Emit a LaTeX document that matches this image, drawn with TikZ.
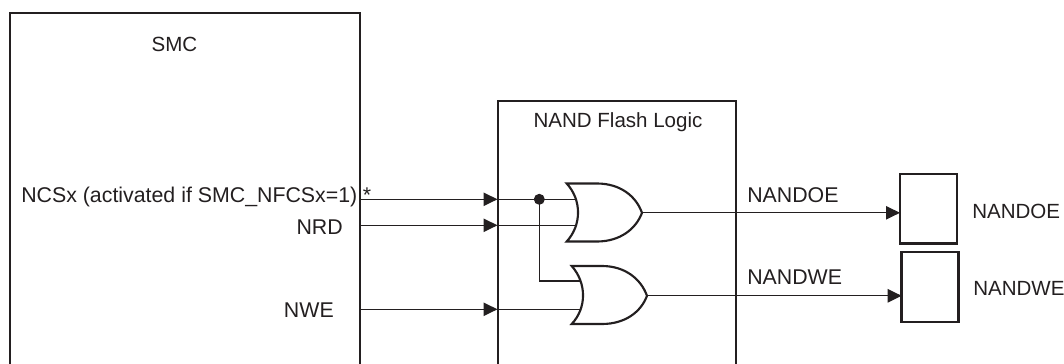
\documentclass[tikz,border=0pt]{standalone}
\usepackage{fontspec}
\setmainfont{Liberation Sans}
\usetikzlibrary{arrows.meta}
\definecolor{inkblack}{HTML}{231F20}
\tikzset{
  block/.style={draw=inkblack,line width=1.9pt,line join=miter,outer sep=0pt},
  gate/.style={draw=inkblack,line width=1.6pt,fill=white},
  signal/.style={draw=inkblack,line width=1pt},
  sigarrow/.style={signal,-{Triangle[length=10.5pt,width=10pt,color=inkblack]}},
  label/.style={inner sep=0pt,text=inkblack,font=\fontsize{16}{18}\selectfont},
  namelabel/.style={inner sep=0pt,text=inkblack,font=\fontsize{15.4}{18}\selectfont},
}

\begin{document}
\begin{tikzpicture}[x=0.75pt,y=0.75pt,yscale=-1,xscale=1]
\useasboundingbox (0,0) rectangle (1064,364);

%Shape: SMC block, open at the bottom
\draw[block] (10,364) -- (10,13) -- (360,13) -- (360,364);
%Shape: NAND Flash Logic block, open at the bottom
\draw[block] (498,364) -- (498,101) -- (736,101) -- (736,364);
%Shape: output pads
\node (padoe) [block,anchor=north west,minimum width=42.75pt,minimum height=52.3pt] at (900,174) {};
\node (padwe) [block,anchor=north west,minimum width=42.75pt,minimum height=52.5pt] at (901.7,252) {};

% Pins on the blocks
\coordinate (smcncs) at (360,199.3);
\coordinate (smcnrd) at (360,225.3);
\coordinate (smcnwe) at (360,309.3);
\coordinate (logncs) at (497.5,199.3);
\coordinate (lognrd) at (497.5,225.3);
\coordinate (lognwe) at (497.5,309.3);
% Pins on the gates
\coordinate (oea) at (577,199.3);
\coordinate (oeb) at (577,225.3);
\coordinate (oeout) at (642,212.8);
\coordinate (wea) at (581.5,281);
\coordinate (web) at (581.5,309.3);
\coordinate (weout) at (647,295.8);
\coordinate (padoein) at (padoe.west |- oeout);
\coordinate (padwein) at (padwe.west |- weout);
\coordinate (branch) at (539.3,199.3);

%Straight Lines
\draw[sigarrow] (smcncs) -- (logncs);
\draw[sigarrow] (smcnrd) -- (lognrd);
\draw[sigarrow] (smcnwe) -- (lognwe);
\draw[signal] (logncs) -- (oea);
\draw[signal] (lognrd) -- (oeb);
\draw[signal] (lognwe) -- (web);
\draw[signal] (branch) |- (wea);
\draw[sigarrow] (oeout) -- (padoein);
\draw[sigarrow] (weout) -- (padwein);
\fill[inkblack] (branch) circle (5.5);

%Shape: OR gate NANDOE
\draw[gate] (566.7,183.5) .. controls (581.8,200) and (581.8,225) .. (566.7,241.5) -- (597,241.5) .. controls (620,241.5) and (636,229) .. (oeout) .. controls (636,196) and (620,183.5) .. (597,183.5) -- cycle ;
%Shape: OR gate NANDWE
\draw[gate] (571.7,266) .. controls (586.8,283) and (586.8,308) .. (571.7,324) -- (602,324) .. controls (625,324) and (641,312) .. (weout) .. controls (641,279) and (625,266) .. (602,266) -- cycle ;

% Text Node
\node (smctitle) [namelabel] at (174.5,44) {SMC};
\node (ncstext) [label,anchor=west] at (21,197) {NCSx (activated if SMC\_NFCSx=1)};
\node (startext) [label,anchor=center] at (367,195) {*};
\node (nrdtext) [label,anchor=east] at (343,226.7) {NRD};
\node (nwetext) [label,anchor=east] at (334,310) {NWE};
\node (logictitle) [namelabel] at (618,122) {NAND Flash Logic};
\node (oetext) [label,anchor=west] at (747,195) {NANDOE};
\node (wetext) [label,anchor=west] at (747,277) {NANDWE};
\node (oename) [namelabel,anchor=west] at (972,211) {NANDOE};
\node (wename) [namelabel,anchor=west] at (973,288) {NANDWE};

\end{tikzpicture}
\end{document}
